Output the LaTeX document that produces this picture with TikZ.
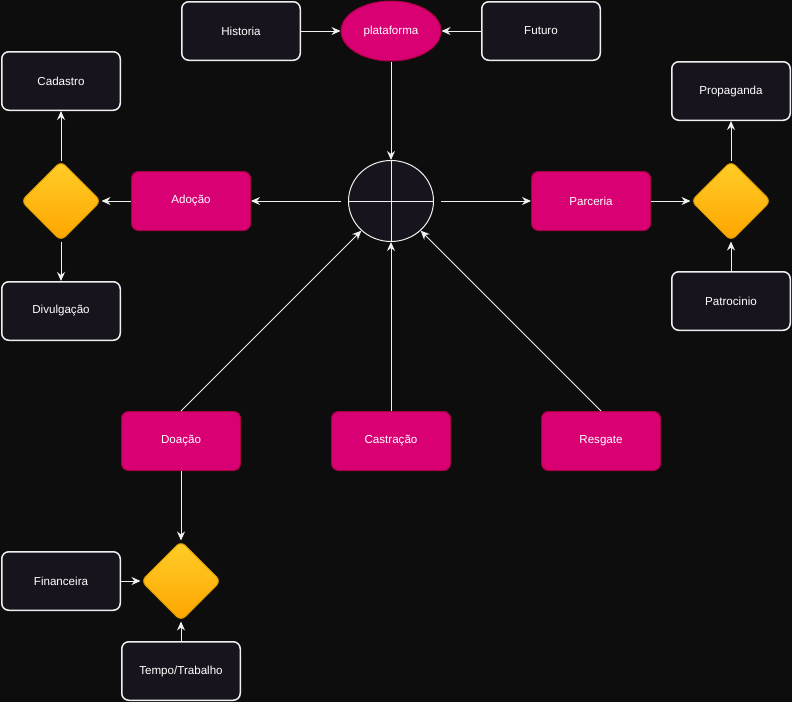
\documentclass[tikz,border=0pt]{standalone}
\usepackage{fontspec}
\setmainfont{Liberation Sans}
\usetikzlibrary{shapes.geometric,arrows.meta}
\definecolor{bg}{HTML}{0D0D0D}
\definecolor{dk}{HTML}{18141D}
\definecolor{pk}{HTML}{D80073}
\definecolor{pkb}{HTML}{A50040}
\definecolor{ytop}{HTML}{FFCD28}
\definecolor{ybot}{HTML}{FFA500}
\definecolor{yb}{HTML}{D79B00}
\definecolor{ln}{HTML}{F0F0F0}
\begin{document}
\begin{tikzpicture}[x=1pt,y=-1pt,font=\fontsize{11.6}{13}\selectfont,
  darkbox/.style={draw=ln,line width=1.5pt,fill=dk,rounded corners=7pt,minimum width=118.5pt,minimum height=58.5pt,text=white,inner sep=0pt},
  pinkbox/.style={draw=pkb,line width=1pt,fill=pk,rounded corners=7pt,minimum width=119pt,minimum height=59pt,text=white,inner sep=0pt},
  dia/.style={diamond,draw=yb,line width=1pt,top color=ytop,bottom color=ybot,rounded corners=6pt,minimum width=80pt,minimum height=80pt,inner sep=0pt},
  conn/.style={draw=ln,line width=1pt,-{Stealth[length=9pt,width=8pt,inset=3pt]}}]
\fill[bg] (0,0) rectangle (792,702);
\useasboundingbox (0,0) rectangle (792,702);
% top row
\node[darkbox] (hist) at (241,31) {Historia};
\node[ellipse,draw=pkb,line width=1pt,fill=pk,minimum width=100pt,minimum height=60pt,text=white,inner sep=0pt] (plat) at (391,31) {plataforma};
\node[darkbox] (fut) at (541,31) {Futuro};
% centre
\node[ellipse,draw=ln,line width=1pt,fill=dk,minimum width=85pt,minimum height=81pt,inner sep=0pt] (sum) at (391,201) {};
\draw[ln,line width=1pt] (sum.north) -- (sum.south) (sum.west) -- (sum.east);
% left
\node[darkbox] (cad) at (61,81) {Cadastro};
\node[darkbox] (div) at (61,311) {Divulgação};
\node[dia] (dl) at (61,201) {};
\node[pinkbox] (ado) at (191,201) {Adoção};
% right
\node[pinkbox] (par) at (591,201) {Parceria};
\node[dia] (dr) at (731,201) {};
\node[darkbox] (prop) at (731,91) {Propaganda};
\node[darkbox] (pat) at (731,301) {Patrocinio};
% bottom row
\node[pinkbox] (doa) at (181,441) {Doação};
\node[pinkbox] (cas) at (391,441) {Castração};
\node[pinkbox] (res) at (601,441) {Resgate};
\node[dia] (db) at (181,581) {};
\node[darkbox] (fin) at (61,581) {Financeira};
\node[darkbox] (tem) at (181,671) {Tempo/Trabalho};
% connectors
\path[conn] (hist) -- (plat);
\path[conn] (fut) -- (plat);
\path[conn] (plat) -- (sum);
\path[conn,shorten <=7pt] (sum.west) -- (ado.east);
\path[conn,shorten <=7pt] (sum.east) -- (par.west);
\path[conn] (ado) -- (dl);
\path[conn] (dl) -- (cad);
\path[conn] (dl) -- (div);
\path[conn] (par) -- (dr);
\path[conn] (dr) -- (prop);
\path[conn] (pat) -- (dr);
\path[conn] (doa.north) -- (sum);
\path[conn] (cas) -- (sum);
\path[conn] (res.north) -- (sum);
\path[conn] (doa) -- (db);
\path[conn] (fin) -- (db);
\path[conn] (tem) -- (db);
\end{tikzpicture}
\end{document}
